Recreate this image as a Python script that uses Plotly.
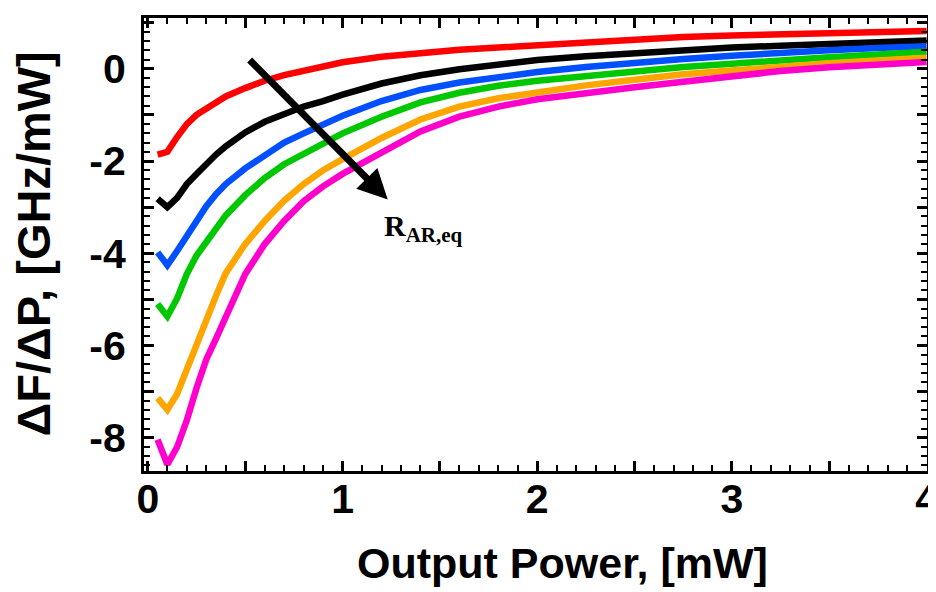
import plotly.graph_objects as go

# Output power (mW)
power = [0.05, 0.1, 0.15, 0.2, 0.25, 0.3, 0.35, 0.4, 0.5, 0.6, 0.7, 0.8, 0.9, 1.0,
         1.2, 1.4, 1.6, 1.8, 2.0, 2.25, 2.5, 2.75, 3.0, 3.25, 3.5, 3.75, 4.0]

# dF/dP (GHz/mW) for increasing R_AR,eq
red = [-1.86, -1.80, -1.48, -1.20, -1.00, -0.86, -0.72, -0.60, -0.42, -0.26, -0.14, -0.04, 0.06, 0.14,
       0.26, 0.35, 0.41, 0.46, 0.51, 0.58, 0.64, 0.69, 0.72, 0.75, 0.77, 0.80, 0.82]
black = [-2.82, -3.00, -2.80, -2.50, -2.28, -2.06, -1.86, -1.68, -1.38, -1.15, -0.97, -0.82, -0.70, -0.56,
         -0.32, -0.14, -0.01, 0.10, 0.19, 0.27, 0.34, 0.41, 0.46, 0.50, 0.54, 0.58, 0.61]
blue = [-3.98, -4.26, -3.95, -3.62, -3.30, -2.98, -2.72, -2.50, -2.16, -1.86, -1.60, -1.40, -1.22, -1.02,
        -0.70, -0.46, -0.30, -0.17, -0.07, 0.04, 0.14, 0.21, 0.28, 0.35, 0.40, 0.45, 0.49]
green = [-5.10, -5.37, -4.98, -4.45, -4.05, -3.74, -3.44, -3.18, -2.74, -2.37, -2.07, -1.84, -1.64, -1.40,
         -1.04, -0.73, -0.52, -0.37, -0.26, -0.15, -0.05, 0.04, 0.11, 0.19, 0.25, 0.31, 0.37]
orange = [-7.14, -7.39, -7.05, -6.50, -5.95, -5.40, -4.92, -4.43, -3.80, -3.30, -2.86, -2.50, -2.20, -1.96,
          -1.50, -1.10, -0.82, -0.64, -0.50, -0.36, -0.24, -0.12, -0.04, 0.05, 0.12, 0.18, 0.24]
magenta = [-8.04, -8.58, -8.20, -7.62, -6.92, -6.30, -5.85, -5.38, -4.45, -3.80, -3.30, -2.87, -2.55, -2.28,
           -1.82, -1.36, -1.04, -0.82, -0.66, -0.52, -0.40, -0.28, -0.16, -0.05, 0.03, 0.09, 0.145]

series = [red, black, blue, green, orange, magenta]
colors = ["#ff0000", "#000000", "#0050ff", "#00c800", "#ffa500", "#ff00cc"]

x_tickvals = [0, 0.5, 1, 1.5, 2, 2.5, 3, 3.5, 4]
x_ticktext = ["0", "", "1", "", "2", "", "3", "", "4"]
y_tickvals = [-8, -7, -6, -5, -4, -3, -2, -1, 0, 1]
y_ticktext = ["-8", "", "-6", "", "-4", "", "-2", "", "0", ""]

fig = go.Figure()
for ys, c in zip(series, colors):
    fig.add_trace(go.Scatter(x=power, y=ys, mode="lines",
                             line=dict(color=c, width=6.5), showlegend=False))

axis_common = dict(
    showgrid=False, zeroline=False, showline=True, linecolor="black", linewidth=3,
    mirror="ticks", ticks="inside", ticklen=10, tickwidth=2.5, tickcolor="black",
    ticklabeloverflow="allow",
    tickfont=dict(family="Liberation Sans, Arial", size=41, color="black", weight="bold"),
)

fig.update_xaxes(range=[-0.02, 4.002], tickmode="array", tickvals=x_tickvals, ticktext=x_ticktext,
                 minor=dict(dtick=0.1, ticks="inside", ticklen=6, tickwidth=2, tickcolor="black"),
                 ticklabelstandoff=-10, **axis_common)
fig.update_yaxes(range=[-8.72, 1.1], tickmode="array", tickvals=y_tickvals, ticktext=y_ticktext,
                 minor=dict(dtick=0.2, ticks="inside", ticklen=6, tickwidth=2, tickcolor="black"),
                 ticklabelstandoff=7, **axis_common)

# arrow
fig.add_annotation(x=1.232, y=-2.835, ax=0.515, ay=0.223, xref="x", yref="y", axref="x", ayref="y",
                   showarrow=True, arrowhead=2, arrowsize=0.85, arrowwidth=7, arrowcolor="black", text="")
fig.add_annotation(x=1.20, y=-3.45, xref="x", yref="y", xanchor="left", yanchor="middle",
                   text="<b>R<sub>AR,eq</sub></b>", showarrow=False,
                   font=dict(family="Liberation Serif, Times New Roman", size=30, color="black"))

# axis titles
fig.add_annotation(x=0.534, y=0, xref="paper", yref="paper", yshift=-92, xanchor="center", yanchor="middle",
                   text="<b>Output Power, [mW]</b>", showarrow=False,
                   font=dict(family="Liberation Sans, Arial", size=43, color="black"))
fig.add_annotation(x=0, y=0.5, xref="paper", yref="paper", xshift=-111, xanchor="center", yanchor="middle",
                   textangle=-90, text="<b>ΔF/ΔP, [GHz/mW]</b>", showarrow=False,
                   font=dict(family="Liberation Sans, Arial", size=47, color="black"))

fig.update_layout(width=936, height=592, margin=dict(l=136, r=6, t=10, b=129),
                  plot_bgcolor="white", paper_bgcolor="white")

fig.write_html("out.html")
